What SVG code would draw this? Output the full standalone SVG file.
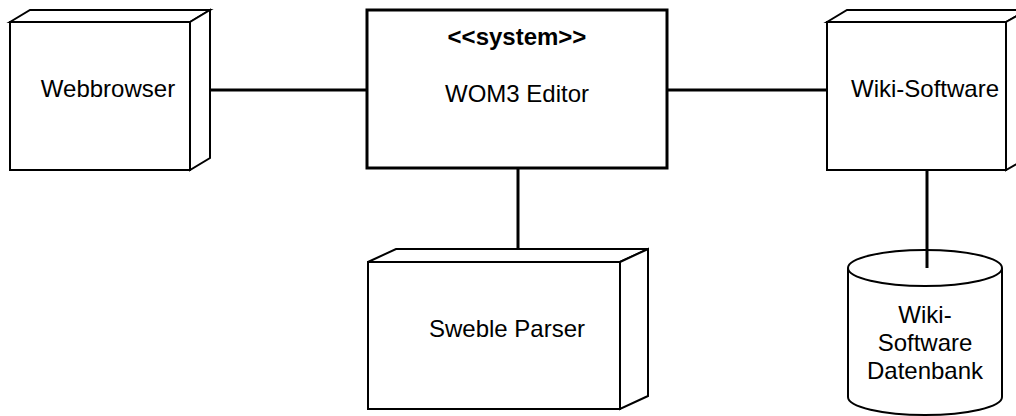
<svg xmlns="http://www.w3.org/2000/svg" width="1016" height="416" viewBox="0 0 1016 416">
<style>
.n{fill:#fff;stroke:#000;stroke-width:2;stroke-linejoin:miter}
.t{font-family:"Liberation Sans",Arial,sans-serif;font-size:24px;fill:#000;text-anchor:middle}
.b{font-weight:bold}
.c{stroke:#000;stroke-width:3;fill:none}
</style>
<rect width="1016" height="416" fill="#fff"/>
<g id="connectors">
<line class="c" x1="209" y1="90" x2="367" y2="90"/>
<line class="c" x1="667" y1="90" x2="827" y2="90"/>
<line class="c" x1="518" y1="168" x2="518" y2="249"/>
<line class="c" x1="927" y1="170" x2="927" y2="268"/>
</g>
<g id="webbrowser">
<polygon class="n" points="10,22 30,10 210,10 190,22"/>
<polygon class="n" points="190,22 210,10 210,158 190,170"/>
<rect class="n" x="10" y="22" width="180" height="148"/>
<text class="t" x="108" y="97">Webbrowser</text>
</g>
<g id="wom3">
<rect x="367" y="10" width="300" height="158" fill="#fff" stroke="#000" stroke-width="3"/>
<text class="t b" x="517" y="45">&lt;&lt;system&gt;&gt;</text>
<text class="t" x="517" y="102">WOM3 Editor</text>
</g>
<g id="wikisoftware">
<polygon class="n" points="827,22 847,10 1027,10 1006,22"/>
<polygon class="n" points="1006,22 1027,10 1027,158 1006,170"/>
<rect class="n" x="827" y="22" width="179" height="148"/>
<text class="t" x="925" y="97">Wiki-Software</text>
</g>
<g id="sweble">
<polygon class="n" points="368,262 396,249 648,249 620,262"/>
<polygon class="n" points="620,262 648,249 648,396 620,409"/>
<rect class="n" x="368" y="262" width="252" height="147"/>
<text class="t" x="507" y="337">Sweble Parser</text>
</g>
<g id="datenbank">
<path class="n" d="M848,268 L848,397 A77,18 0 0 0 1002,397 L1002,268"/>
<ellipse class="n" cx="925" cy="268" rx="77" ry="18"/>
<line class="c" x1="927" y1="250" x2="927" y2="268"/>
<text class="t" x="925" y="323">Wiki-</text>
<text class="t" x="925" y="351">Software</text>
<text class="t" x="925" y="379">Datenbank</text>
</g>
</svg>
